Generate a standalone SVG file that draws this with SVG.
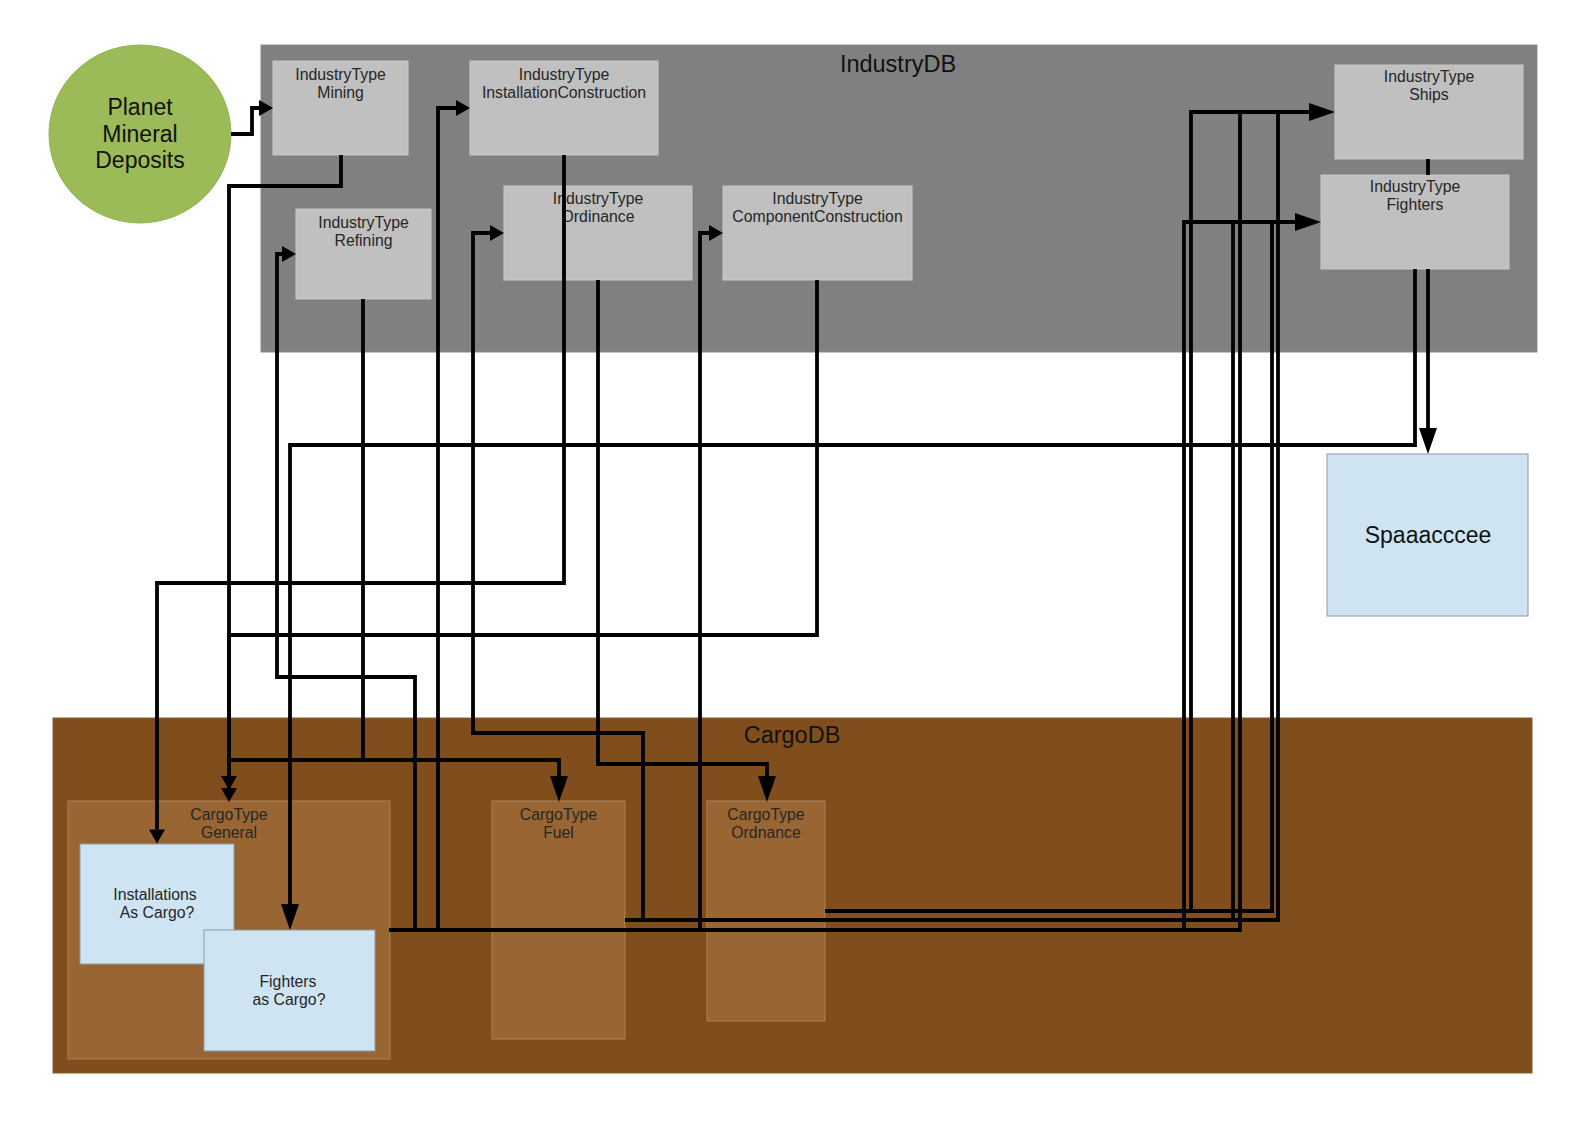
<svg xmlns="http://www.w3.org/2000/svg" width="1588" height="1123" viewBox="0 0 1588 1123">
<style>
  .txt{font-family:"Liberation Sans",Arial,sans-serif;fill:#111;text-anchor:middle}
  .lbl{font-size:15.8px;fill:#262626}
  .big{font-size:23.5px}
  .ind{fill:#c0c0c0;stroke:#c8c8c8;stroke-width:1}
  .cargo{fill:#996633;stroke:#aa8158;stroke-width:1}
  .blue{fill:#cfe4f3;stroke:#8a9aa6;stroke-width:1}
  .conn path{fill:none;stroke:#000;stroke-width:3.8;stroke-linejoin:miter;stroke-linecap:butt}
  .s{marker-end:url(#as)}
  .b{marker-end:url(#ab)}
</style>
<defs>
  <marker id="as" markerUnits="userSpaceOnUse" markerWidth="14" markerHeight="16" refX="0" refY="8" orient="auto" overflow="visible">
    <path d="M0,0 L14,8 L0,16 z" fill="#000"/>
  </marker>
  <marker id="ab" markerUnits="userSpaceOnUse" markerWidth="26" markerHeight="18" refX="0" refY="9" orient="auto" overflow="visible">
    <path d="M0,0 L26,9 L0,18 z" fill="#000"/>
  </marker>
</defs>
<rect x="0" y="0" width="1588" height="1123" fill="#fff"/>

<g id="IndustryDB">
  <rect x="261" y="45" width="1276" height="307" fill="#808080" stroke="#8c8c8c" stroke-width="1"/>
  <text class="txt big" x="898" y="72">IndustryDB</text>
</g>
<g id="CargoDB">
  <rect x="53" y="718" width="1479" height="355" fill="#7f4e1c" stroke="#8a5c2c" stroke-width="1"/>
  <text class="txt big" x="792" y="743">CargoDB</text>
</g>

<g id="PlanetMineralDeposits">
  <ellipse cx="140" cy="134" rx="91" ry="89" fill="#9bbb59" stroke="#93b453" stroke-width="1"/>
  <text class="txt" style="font-size:23px" x="140" y="115">Planet</text>
  <text class="txt" style="font-size:23px" x="140" y="141.5">Mineral</text>
  <text class="txt" style="font-size:23px" x="140" y="168">Deposits</text>
</g>

<g id="IndustryTypeMining">
  <rect class="ind" x="273" y="61" width="135" height="94"/>
  <text class="txt lbl" x="340.5" y="79.5">IndustryType</text>
  <text class="txt lbl" x="340.5" y="97.5">Mining</text>
</g>
<g id="IndustryTypeInstallationConstruction">
  <rect class="ind" x="470" y="61" width="188" height="94"/>
  <text class="txt lbl" x="564" y="79.5">IndustryType</text>
  <text class="txt lbl" x="564" y="97.5">InstallationConstruction</text>
</g>
<g id="IndustryTypeRefining">
  <rect class="ind" x="296" y="209" width="135" height="90"/>
  <text class="txt lbl" x="363.5" y="227.5">IndustryType</text>
  <text class="txt lbl" x="363.5" y="245.5">Refining</text>
</g>
<g id="IndustryTypeOrdinance">
  <rect class="ind" x="504" y="186" width="188" height="94"/>
  <text class="txt lbl" x="598" y="203.5">IndustryType</text>
  <text class="txt lbl" x="598" y="221.5">Ordinance</text>
</g>
<g id="IndustryTypeComponentConstruction">
  <rect class="ind" x="723" y="186" width="189" height="94"/>
  <text class="txt lbl" x="817.5" y="203.5">IndustryType</text>
  <text class="txt lbl" x="817.5" y="221.5">ComponentConstruction</text>
</g>
<g id="IndustryTypeShips">
  <rect class="ind" x="1335" y="65" width="188" height="94"/>
  <text class="txt lbl" x="1429" y="82">IndustryType</text>
  <text class="txt lbl" x="1429" y="100">Ships</text>
</g>
<g id="IndustryTypeFighters">
  <rect class="ind" x="1321" y="175" width="188" height="94"/>
  <text class="txt lbl" x="1415" y="192">IndustryType</text>
  <text class="txt lbl" x="1415" y="210">Fighters</text>
</g>

<g id="Spaaacccee">
  <rect class="blue" x="1327" y="454" width="201" height="162"/>
  <text class="txt" style="font-size:23px" x="1428" y="543">Spaaacccee</text>
</g>

<g id="CargoTypeGeneral">
  <rect class="cargo" x="68" y="801" width="322" height="258"/>
  <text class="txt lbl" x="229" y="820">CargoType</text>
  <text class="txt lbl" x="229" y="838">General</text>
</g>
<g id="CargoTypeFuel">
  <rect class="cargo" x="492" y="801" width="133" height="238"/>
  <text class="txt lbl" x="558.5" y="820">CargoType</text>
  <text class="txt lbl" x="558.5" y="838">Fuel</text>
</g>
<g id="CargoTypeOrdnance">
  <rect class="cargo" x="707" y="801" width="118" height="220"/>
  <text class="txt lbl" x="766" y="820">CargoType</text>
  <text class="txt lbl" x="766" y="838">Ordnance</text>
</g>
<g id="InstallationsAsCargo">
  <rect class="blue" x="80" y="844" width="154" height="120"/>
  <text class="txt lbl" x="155" y="900">Installations</text>
  <text class="txt lbl" x="157" y="917.5">As Cargo?</text>
</g>
<g id="FightersAsCargo">
  <rect class="blue" x="204" y="930" width="171" height="121"/>
  <text class="txt lbl" x="288" y="987">Fighters</text>
  <text class="txt lbl" x="289" y="1004.5">as Cargo?</text>
</g>

<g id="connectors" class="conn">
  <path class="s" d="M231,134 H252 V108 H259"/>
  <path class="s" d="M341,155 V186 H229 V788"/>
  <path class="s" d="M817,280 V635 H229 V776"/>
  <path d="M363,299 V760 H229"/>
  <path class="b" d="M363,760 H559 V776"/>
  <path class="s" d="M564,155 V583 H157 V829.5"/>
  <path class="b" d="M598,280 V764 H767 V776"/>
  <path class="b" d="M1415,269 V445 H290 V904"/>
  <path d="M1428,159 V175"/>
  <path class="b" d="M1428,269 V428"/>
  <path class="s" d="M415,930 V677 H277 V254 H282"/>
  <path class="s" d="M438,930 V108 H456"/>
  <path class="s" d="M643,920 V733 H473 V233 H490"/>
  <path class="s" d="M700,930 V233 H709"/>
  <path class="b" d="M389,930 H1240 V112 H1309"/>
  <path class="b" d="M1184,930 V222 H1295"/>
  <path d="M625,920 H1278 V112"/>
  <path d="M1233,920 V222"/>
  <path d="M825,911 H1272 V222"/>
  <path d="M1191,911 V112 H1240"/>
</g>
</svg>
